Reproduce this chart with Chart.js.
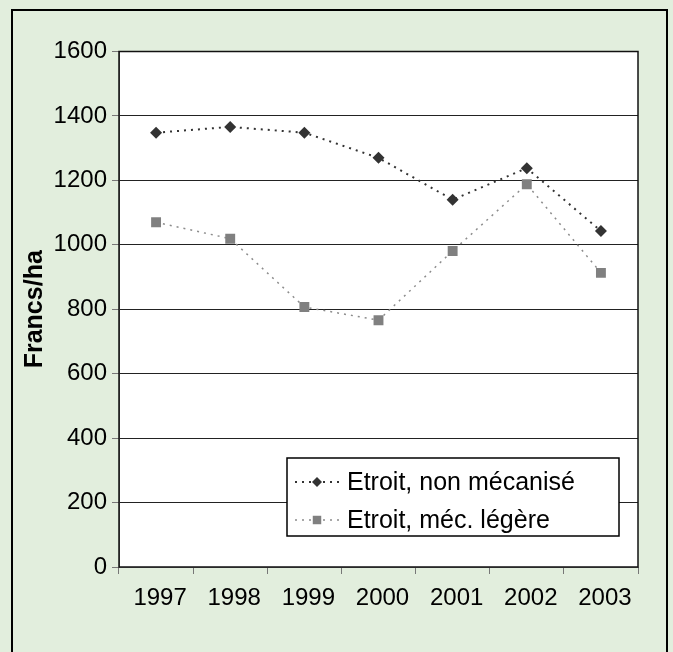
<!DOCTYPE html>
<html>
<head>
<meta charset="utf-8">
<script src="https://cdn.jsdelivr.net/npm/chart.js@4.4.0/dist/chart.umd.min.js"></script>
<style>
body { margin: 0; background: #e2eedd; }
</style>
</head>
<body>
<canvas id="fraisChart" width="673" height="652"></canvas>
<script>
var annees = ["1997", "1998", "1999", "2000", "2001", "2002", "2003"];
var etroitNonMeca = [1348, 1366, 1348, 1270, 1140, 1238, 1043];
var etroitMecLegere = [1070, 1019, 807, 766, 981, 1188, 913];
var ticksY = [0, 200, 400, 600, 800, 1000, 1200, 1400, 1600];

// fond vert, zone blanche, cadre
var fond = {
    id: 'fond',
    beforeDraw: function(chart) {
        var c = chart.ctx, a = chart.chartArea;
        c.save();
        c.fillStyle = '#e2eedd';
        c.fillRect(0, 0, chart.width, chart.height);
        c.fillStyle = '#ffffff';
        c.fillRect(a.left, a.top, a.right - a.left, a.bottom - a.top);
        c.strokeStyle = '#000';
        c.lineWidth = 2;
        c.strokeRect(12, 10, 655, 700);
        c.restore();
    },
    beforeDatasetsDraw: function(chart) {
        var c = chart.ctx, a = chart.chartArea;
        c.save();
        c.strokeStyle = '#111';
        c.lineWidth = 1.5;
        c.strokeRect(a.left, a.top, a.right - a.left, a.bottom - a.top);
        c.restore();
    }
};

// legende dans la zone du graphique
var legende = {
    id: 'legende',
    afterDatasetsDraw: function(chart) {
        var c = chart.ctx, a = chart.chartArea;
        var x = a.left + 168, y = a.bottom - 109, w = 332, h = 78;
        c.save();
        c.fillStyle = '#fff';
        c.fillRect(x, y, w, h);
        c.strokeStyle = '#000';
        c.lineWidth = 1.5;
        c.strokeRect(x, y, w, h);
        chart.data.datasets.forEach(function(ds, i) {
            var ly = y + 24 + i * 38;
            c.beginPath();
            c.setLineDash(ds.borderDash);
            c.strokeStyle = ds.borderColor;
            c.lineWidth = ds.borderWidth;
            c.moveTo(x + 8, ly);
            c.lineTo(x + 53, ly);
            c.stroke();
            c.setLineDash([]);
            c.fillStyle = ds.pointBackgroundColor;
            c.strokeStyle = ds.pointBackgroundColor;
            Chart.helpers.drawPoint(c, {pointStyle: ds.pointStyle, radius: ds.pointRadius - 1, rotation: 0, borderWidth: 0}, x + 30, ly);
            c.fillStyle = '#000';
            c.font = '25px "Liberation Sans", Arial, sans-serif';
            c.textBaseline = 'middle';
            c.textAlign = 'left';
            c.fillText(ds.label, x + 60, ly + 1);
        });
        c.restore();
    }
};

var ctx = document.getElementById('fraisChart');
var myChart = new Chart(ctx, {
    type: 'line',
    data: {
        labels: annees,
        datasets: [{
            label: 'Etroit, non mécanisé',
            data: etroitNonMeca,
            borderColor: '#333333',
            borderWidth: 2,
            borderDash: [2, 5],
            pointStyle: 'rectRot',
            pointRadius: 6,
            pointBackgroundColor: '#333333',
            pointBorderWidth: 0,
            tension: 0
        }, {
            label: 'Etroit, méc. légère',
            data: etroitMecLegere,
            borderColor: '#8c8c8c',
            borderWidth: 1.5,
            borderDash: [2, 5],
            pointStyle: 'rect',
            pointRadius: 7,
            pointBackgroundColor: '#808080',
            pointBorderWidth: 0,
            tension: 0
        }]
    },
    options: {
        responsive: false,
        animation: false,
        layout: {
            padding: { left: 0, top: 51.5, right: 35, bottom: 0 }
        },
        plugins: {
            legend: { display: false },
            tooltip: { enabled: false }
        },
        scales: {
            x: {
                offset: true,
                grid: {
                    offset: true,
                    drawOnChartArea: false,
                    drawTicks: true,
                    tickLength: 7,
                    tickColor: '#777'
                },
                border: { color: '#777', width: 1 },
                ticks: {
                    color: '#000',
                    padding: 10,
                    labelOffset: 4,
                    maxRotation: 0,
                    font: { family: '"Liberation Sans", Arial, sans-serif', size: 24 }
                },
                afterFit: function(s) { s.height = 85; }
            },
            y: {
                min: 0,
                max: 1600,
                afterBuildTicks: function(s) {
                    s.ticks = ticksY.map(function(v) { return { value: v }; });
                },
                grid: {
                    color: '#222',
                    lineWidth: 1,
                    tickLength: 7,
                    tickColor: '#777'
                },
                border: { color: '#666', width: 1 },
                ticks: {
                    color: '#000',
                    padding: 5,
                    callback: function(v) { return String(v); },
                    font: { family: '"Liberation Sans", Arial, sans-serif', size: 24 }
                },
                title: {
                    display: true,
                    text: 'Francs/ha',
                    color: '#000',
                    padding: { top: 20, bottom: 0 },
                    font: { family: '"Liberation Sans", Arial, sans-serif', size: 25, weight: 'bold' }
                },
                afterFit: function(s) { s.width = 119; }
            }
        }
    },
    plugins: [fond, legende]
});
</script>
</body>
</html>
